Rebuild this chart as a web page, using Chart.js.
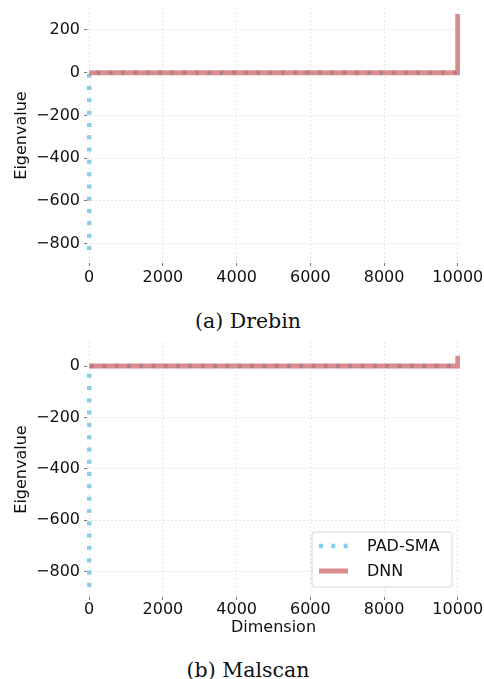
<!DOCTYPE html>
<html lang="en">
<head>
<meta charset="utf-8">
<script src="https://cdn.jsdelivr.net/npm/chart.js@4.4.0/dist/chart.umd.min.js"></script>
<style>
  body { margin: 0; background: #fff; width: 484px; height: 679px; position: relative; overflow: hidden; }
  canvas { position: absolute; left: 0; }
  .cap { position: absolute; left: 0; width: 496px; text-align: center;
         font-family: "DejaVu Serif", serif; font-size: 20.5px; line-height: 24px; color: #111; }
</style>
</head>
<body>
<canvas id="drebin" width="484" height="301" style="top:0px"></canvas>
<div class="cap" style="top:309px">(a) Drebin</div>
<canvas id="malscan" width="484" height="305" style="top:334px"></canvas>
<div class="cap" style="top:658px">(b) Malscan</div>
<script>
// sorted eigenvalues, sampled at the dimensions where they change
const dims = [0, 1, 9999, 10000];
const drebinPad = [-830, 0, 0, 0];
const drebinDnn = [0, 0, 0, 275];
const malscanPad = [-860, 0, 0, 0];
const malscanDnn = [0, 0, 0, 40];
const seriesNames = ['PAD-SMA', 'DNN'];
const xTicks = [0, 2000, 4000, 6000, 8000, 10000];
const drebinYTicks = [-800, -600, -400, -200, 0, 200];
const malscanYTicks = [-800, -600, -400, -200, 0];

const tickFont = { family: 'DejaVu Sans', size: 16 };
const minus = v => String(v).replace('-', '\u2212');

// legend drawn inside the plot, lower right
const legendBox = {
  id: 'legendBox',
  afterDatasetsDraw(chart, args, opts) {
    if (!opts.show) return;
    const ctx = chart.ctx;
    const a = chart.chartArea;
    const w = 140, h = 55;
    const x = a.right - 8 - w, y = a.bottom - 10 - h;
    ctx.save();
    ctx.beginPath();
    ctx.roundRect(x, y, w, h, 3);
    ctx.fillStyle = 'rgba(255,255,255,0.85)';
    ctx.fill();
    ctx.strokeStyle = '#d6d6d6';
    ctx.lineWidth = 1;
    ctx.stroke();
    ctx.font = '16px "DejaVu Sans"';
    ctx.textBaseline = 'middle';
    chart.data.datasets.forEach((ds, i) => {
      const ly = y + 14 + i * 25;
      ctx.beginPath();
      ctx.setLineDash(ds.borderDash || []);
      ctx.lineWidth = ds.borderWidth;
      ctx.strokeStyle = ds.borderColor;
      ctx.lineCap = 'butt';
      ctx.moveTo(x + 7, ly);
      ctx.lineTo(x + 36, ly);
      ctx.stroke();
      ctx.setLineDash([]);
      ctx.fillStyle = '#111';
      ctx.fillText(ds.label, x + 55, ly + 1);
    });
    ctx.restore();
  }
};

function makeChart(id, pad, dnn, yTicks, yMin, yMax, axisH, xPad, showX, showLegend) {
  const ctx = document.getElementById(id).getContext('2d');
  return new Chart(ctx, {
    type: 'line',
    data: {
      datasets: [
        {
          label: seriesNames[0],
          data: dims.map((d, i) => ({ x: d, y: pad[i] })),
          borderColor: 'rgb(135,206,235)',
          borderWidth: 4.5,
          borderDash: [4, 8.3],
          borderCapStyle: 'butt',
          pointRadius: 0,
          fill: false,
          tension: 0,
          order: 2
        },
        {
          label: seriesNames[1],
          data: dims.map((d, i) => ({ x: d, y: dnn[i] })),
          borderColor: 'rgba(205,92,92,0.7)',
          borderWidth: 5,
          borderCapStyle: 'butt',
          pointRadius: 0,
          fill: false,
          tension: 0,
          order: 1
        }
      ]
    },
    options: {
      responsive: false,
      animation: false,
      layout: { padding: { left: 0, right: 24, top: 8, bottom: 0 } },
      plugins: {
        legend: { display: false },
        tooltip: { enabled: false },
        legendBox: { show: showLegend }
      },
      scales: {
        x: {
          type: 'linear',
          min: -60,
          max: 10060,
          border: { display: false, dash: [2, 2] },
          grid: { color: '#e0e0e0', lineWidth: 0.8, tickLength: 3, tickColor: '#555', tickWidth: 0.8, tickBorderDash: [] },
          ticks: { maxRotation: 0, padding: xPad, color: '#111', font: tickFont, callback: minus },
          title: { display: showX, text: 'Dimension', color: '#111', font: tickFont, padding: { top: 0, bottom: 2 } },
          afterBuildTicks(s) { s.ticks = xTicks.map(v => ({ value: v })); },
          afterFit(s) { s.height = axisH; s.paddingLeft = 0; s.paddingRight = 0; }
        },
        y: {
          min: yMin,
          max: yMax,
          border: { display: false, dash: [2, 2] },
          grid: { color: '#e0e0e0', lineWidth: 0.8, tickLength: 3, tickColor: '#555', tickWidth: 0.8, tickBorderDash: [] },
          ticks: { padding: 4, color: '#111', font: tickFont, callback: minus },
          title: { display: true, text: 'Eigenvalue', color: '#111', font: tickFont, padding: { top: 12, bottom: 0 } },
          afterBuildTicks(s) { s.ticks = yTicks.map(v => ({ value: v })); },
          afterFit(s) { s.width = 87; s.paddingTop = 0; s.paddingBottom = 0; }
        }
      }
    },
    plugins: [legendBox]
  });
}

makeChart('drebin', drebinPad, drebinDnn, drebinYTicks, -891, 303, 38, 2, false, false);
makeChart('malscan', malscanPad, malscanDnn, malscanYTicks, -900, 94, 42, 0, true, true);
</script>
</body>
</html>
